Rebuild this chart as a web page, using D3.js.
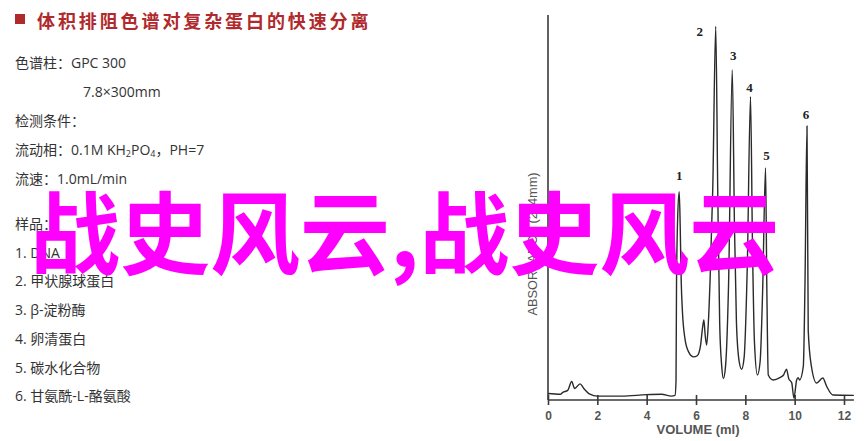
<!DOCTYPE html>
<html><head><meta charset="utf-8">
<script src="https://cdn.jsdelivr.net/npm/d3@7"></script>
<style>html,body{margin:0;padding:0;background:#fff;}svg{display:block;}</style>
</head><body>
<script>
// ---------- data ----------
const titleText = "体积排阻色谱对复杂蛋白的快速分离";
const conditionLines = ["色谱柱：GPC 300", "7.8×300mm", "检测条件：", "流动相：0.1M KH_2PO_4，PH=7", "流速：1.0mL/min"];
const sampleLines = ["样品：", "1. DNA", "2. 甲状腺球蛋白", "3. β-淀粉酶", "4. 卵清蛋白", "5. 碳水化合物", "6. 甘氨酰-L-酪氨酸"];
const watermarkText = "战史风云,战史风云";
const xTicks = [0, 2, 4, 6, 8, 10, 12];
const xLabel = "VOLUME (ml)";
const yLabel = "ABSORBANCE (254mm)";
const volume = [0,0.5,0.6,0.8,0.96,1.08,1.3,1.45,1.7,2.0,3.0,4.0,4.6,5.0,5.15,5.19,5.21,5.26,5.32,5.36,5.4,5.45,5.55,5.7,5.9,6.05,6.18,6.27,6.32,6.37,6.43,6.5,6.57,6.68,6.8,6.88,6.96,7.04,7.11,7.2,7.32,7.47,7.56,7.64,7.75,7.85,7.95,8.08,8.21,8.29,8.37,8.49,8.6,8.7,8.82,8.87,8.93,9.13,9.4,9.55,9.67,9.76,9.88,9.97,10.08,10.14,10.2,10.35,10.42,10.5,10.55,10.68,10.89,11.14,11.3,11.55,12.4];
const absorbance = [1.7,1.5,2.0,2.5,4.8,3.0,4.2,3.0,1.5,1.0,1.0,1.4,1.5,1.0,1.2,5,30,48,54.1,45,31,23,16,12.5,11.2,11.5,14,19,20.8,17,14.3,20,31,55,97,55,20,9,5.6,9,30,85.7,45,20,10,8.0,11,35,78.8,40,15,6.5,10,28,60.3,30,6.5,5.2,5.8,6.5,8.0,5.5,4.5,0.5,5.2,5.8,5.2,8.7,31,71.2,18,8.7,4.4,5.7,3.5,1.3,1.2];
const peakNames = ["1","2","3","4","5","6"];
const peakVolumes = [5.32, 6.8, 7.47, 8.21, 8.82, 10.5];
const peakHeights = [54.1, 97, 85.7, 78.8, 60.3, 71.2];

// ---------- layout ----------
const W = 864, H = 441;
const svg = d3.select("body").append("svg").attr("width", W).attr("height", H)
  .style("background", "#fff");
svg.append("rect").attr("width", W).attr("height", H).attr("fill", "#fff");

const cjk = "'Open Sans','Noto Sans CJK SC',sans-serif";

// title
svg.append("rect").attr("x", 15).attr("y", 14).attr("width", 10).attr("height", 10).attr("fill", "#b0292c");
svg.append("text").attr("x", 37).attr("y", 20).attr("dominant-baseline", "central")
  .attr("font-family", "'Noto Sans CJK SC',sans-serif").attr("font-weight", 700)
  .attr("font-size", 18).attr("letter-spacing", 2.9).attr("fill", "#b0292c").text(titleText);

function addLine(str, x, y) {
  const t = svg.append("text").attr("x", x).attr("y", y).attr("dominant-baseline", "central")
    .attr("font-family", cjk).attr("font-size", 14).attr("fill", "#333");
  const parts = str.split(/(_\d)/).filter(p => p);
  let shift = 0;
  parts.forEach(p => {
    if (p[0] === "_") {
      t.append("tspan").attr("font-size", 9).attr("dy", 4 - shift).text(p.slice(1));
      shift = 4;
    } else {
      t.append("tspan").attr("dy", -shift).text(p);
      shift = 0;
    }
  });
}
conditionLines.forEach((s, i) => addLine(s, i === 1 ? 83 : 15, 62 + i * 29));
sampleLines.forEach((s, i) => addLine(s, 15, 223 + i * 28.7));

// chart
const x = d3.scaleLinear().domain([0, 12]).range([548, 844]);
const y = d3.scaleLinear().domain([0, 100]).range([400, 15]);
const axisColor = "#3a3a3a";

// y axis line
svg.append("line").attr("x1", x(0)).attr("x2", x(0)).attr("y1", y(100)).attr("y2", y(0))
  .attr("stroke", axisColor).attr("stroke-width", 1.6);
// x axis
const xAxis = d3.axisBottom(x).tickValues(xTicks).tickSize(0).tickPadding(10).tickFormat(d3.format("d"));
const gx = svg.append("g").attr("transform", `translate(0,${y(0)})`).call(xAxis);
gx.select(".domain").remove();
gx.append("line").attr("x1", x(0)).attr("x2", x(12.4)).attr("stroke", axisColor).attr("stroke-width", 1.6);
gx.selectAll(".tick").append("line").attr("y1", -5).attr("y2", 5).attr("stroke", axisColor).attr("stroke-width", 1.6);
gx.selectAll(".tick text").attr("font-family", "'Liberation Sans',Arial,sans-serif").attr("font-weight", 700)
  .attr("font-size", 12).attr("fill", "#555").attr("dy", "0.35em").attr("y", 16);
svg.append("text").attr("x", 698).attr("y", 429).attr("dominant-baseline", "central").attr("text-anchor", "middle")
  .attr("font-family", "'Liberation Sans',Arial,sans-serif").attr("font-weight", 700).attr("font-size", 13)
  .attr("fill", "#555").text(xLabel);
svg.append("text").attr("transform", `translate(533,244) rotate(-90)`).attr("dominant-baseline", "central")
  .attr("text-anchor", "middle").attr("font-family", "'Liberation Sans',Arial,sans-serif")
  .attr("font-size", 12).attr("fill", "#555").attr("textLength", 143).attr("lengthAdjust", "spacingAndGlyphs").text(yLabel);

// trace
const pts = volume.map((v, i) => [v, absorbance[i]]);
const line = d3.line().x(d => x(d[0])).y(d => y(d[1])).curve(d3.curveMonotoneX);
svg.append("path").attr("d", line(pts)).attr("fill", "none").attr("stroke", "#2a2a2a").attr("stroke-width", 1.4)
  .attr("stroke-linejoin", "round");

// peak labels
const labelOffsets = [[0, -16], [-16, 5], [1, -15], [-1, -9], [1, -12], [-1, -11]];
peakNames.forEach((n, i) => {
  svg.append("text").attr("x", x(peakVolumes[i]) + labelOffsets[i][0]).attr("y", y(peakHeights[i]) + labelOffsets[i][1])
    .attr("text-anchor", "middle").attr("dominant-baseline", "central")
    .attr("font-family", "'Liberation Serif','Times New Roman',serif").attr("font-weight", 700)
    .attr("font-size", 13).attr("fill", "#222").text(n);
});

// watermark
svg.append("text").attr("x", 30).attr("y", 267)
  .attr("font-family", "'Noto Sans CJK SC',sans-serif").attr("font-weight", 700)
  .attr("font-size", 90).attr("fill", "#ff00ff").text(watermarkText);
</script>
</body></html>
